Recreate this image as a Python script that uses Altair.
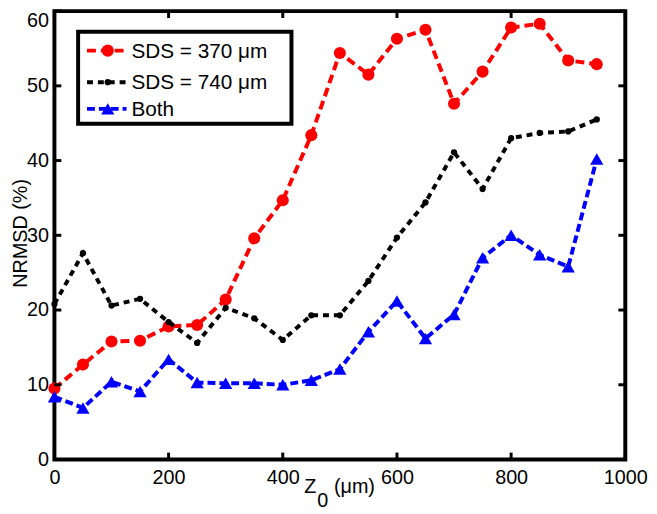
import altair as alt
import pandas as pd

z0 = [0, 50, 100, 150, 200, 250, 300, 350, 400, 450, 500, 550, 600, 650, 700, 750, 800, 850, 900, 950]
sds370 = [9.5, 12.7, 15.8, 15.9, 17.8, 18.0, 21.4, 29.6, 34.7, 43.4, 54.4, 51.5, 56.3, 57.5, 47.6, 51.9, 57.8, 58.3, 53.4, 52.9]
sds740 = [20.8, 27.6, 20.6, 21.5, 18.4, 15.6, 20.3, 18.9, 16.0, 19.3, 19.3, 23.9, 29.7, 34.4, 41.1, 36.2, 43.0, 43.7, 43.9, 45.5]
both = [8.4, 6.9, 10.4, 9.1, 13.4, 10.3, 10.2, 10.2, 10.0, 10.6, 12.1, 17.1, 21.2, 16.2, 19.4, 27.0, 30.0, 27.4, 25.8, 40.2]

labels = ["SDS = 370 \u03bcm", "SDS = 740 \u03bcm", "Both"]
colors = ["#ff0000", "#000000", "#0000ff"]
dashes = [[9, 5], [6, 5], [8, 4]]
shapes = ["circle", "circle", "triangle-up"]
sizes = [150, 40, 180]

x_ticks = [0, 200, 400, 600, 800, 1000]
y_ticks = [0, 10, 20, 30, 40, 50, 60]

W, H = 578, 454
FONT = "Liberation Sans"

xs = alt.Scale(domain=[0, 1000], nice=False)
ys = alt.Scale(domain=[0, 60], nice=False)

series = [sds370, sds740, both]
layers = []
for i, vals in enumerate(series):
    df = pd.DataFrame({"z": z0, "v": vals})
    base = alt.Chart(df)
    line = base.mark_line(color=colors[i], strokeWidth=4, strokeDash=dashes[i]).encode(
        x=alt.X("z:Q", scale=xs,
                axis=alt.Axis(values=x_ticks, ticks=False, domain=False, grid=False, format="d",
                              labelFontSize=20, labelPadding=8, labelFlush=False, title=None)),
        y=alt.Y("v:Q", scale=ys,
                axis=alt.Axis(values=y_ticks, ticks=False, domain=False, grid=False, format="d",
                              labelFontSize=20, labelPadding=6, labelFlush=False, title=None,
                              labelBaseline={"condition": {"test": "datum.value == 60", "value": "top"},
                                             "value": "middle"})),
    )
    pts = base.mark_point(filled=True, shape=shapes[i], size=sizes[i], color=colors[i], opacity=1).encode(
        x=alt.X("z:Q", scale=xs), y=alt.Y("v:Q", scale=ys)
    )
    layers += [line, pts]

# inward ticks on all four sides
xt = alt.Chart(pd.DataFrame({"t": x_ticks}))
yt = alt.Chart(pd.DataFrame({"t": y_ticks}))
tick_style = dict(color="black", strokeWidth=3)
layers += [
    xt.mark_rule(**tick_style).encode(x=alt.X("t:Q", scale=xs), y=alt.value(H), y2=alt.value(H - 7)),
    xt.mark_rule(**tick_style).encode(x=alt.X("t:Q", scale=xs), y=alt.value(0), y2=alt.value(7)),
    yt.mark_rule(**tick_style).encode(y=alt.Y("t:Q", scale=ys), x=alt.value(0), x2=alt.value(7)),
    yt.mark_rule(**tick_style).encode(y=alt.Y("t:Q", scale=ys), x=alt.value(W), x2=alt.value(W - 7)),
]

one = alt.Chart(pd.DataFrame({"a": [0]}))

# axis titles
txt = dict(font=FONT, color="black", fontSize=20)
layers += [
    one.mark_text(text="NRMSD (%)", angle=270, align="center", baseline="middle", **txt).encode(
        x=alt.value(-34), y=alt.value(225)),
    one.mark_text(text="Z", align="left", baseline="alphabetic", **txt).encode(
        x=alt.value(253), y=alt.value(488)),
    one.mark_text(text="0", align="left", baseline="alphabetic", **txt).encode(
        x=alt.value(266), y=alt.value(502)),
    one.mark_text(text="(\u03bcm)", align="left", baseline="alphabetic", **txt).encode(
        x=alt.value(283), y=alt.value(488)),
]

# legend box
layers.append(
    one.mark_rect(fill="white", stroke="black", strokeWidth=4).encode(
        x=alt.value(24), x2=alt.value(240), y=alt.value(21), y2=alt.value(114)
    )
)
row_y = [40, 72, 99]
for i in range(3):
    layers.append(one.mark_rule(color=colors[i], strokeWidth=4, strokeDash=dashes[i]).encode(
        x=alt.value(33), x2=alt.value(73), y=alt.value(row_y[i])))
    layers.append(one.mark_point(filled=True, shape=shapes[i], size=sizes[i], color=colors[i], opacity=1).encode(
        x=alt.value(54), y=alt.value(row_y[i])))
    layers.append(one.mark_text(text=labels[i], align="left", baseline="middle", fontSize=21,
                                font=FONT, color="black").encode(
        x=alt.value(78), y=alt.value(row_y[i] + 1)))

chart = alt.layer(*layers).properties(
    width=W, height=H,
    autosize=alt.AutoSizeParams(type="none"),
    padding={"left": 47, "top": 0, "right": 24, "bottom": 50},
).configure_view(
    stroke="black", strokeWidth=4
).configure_axis(
    labelFont=FONT, titleFont=FONT, labelColor="black", titleColor="black"
)

chart.save("out.html", embed_options={"renderer": "svg", "actions": False})
